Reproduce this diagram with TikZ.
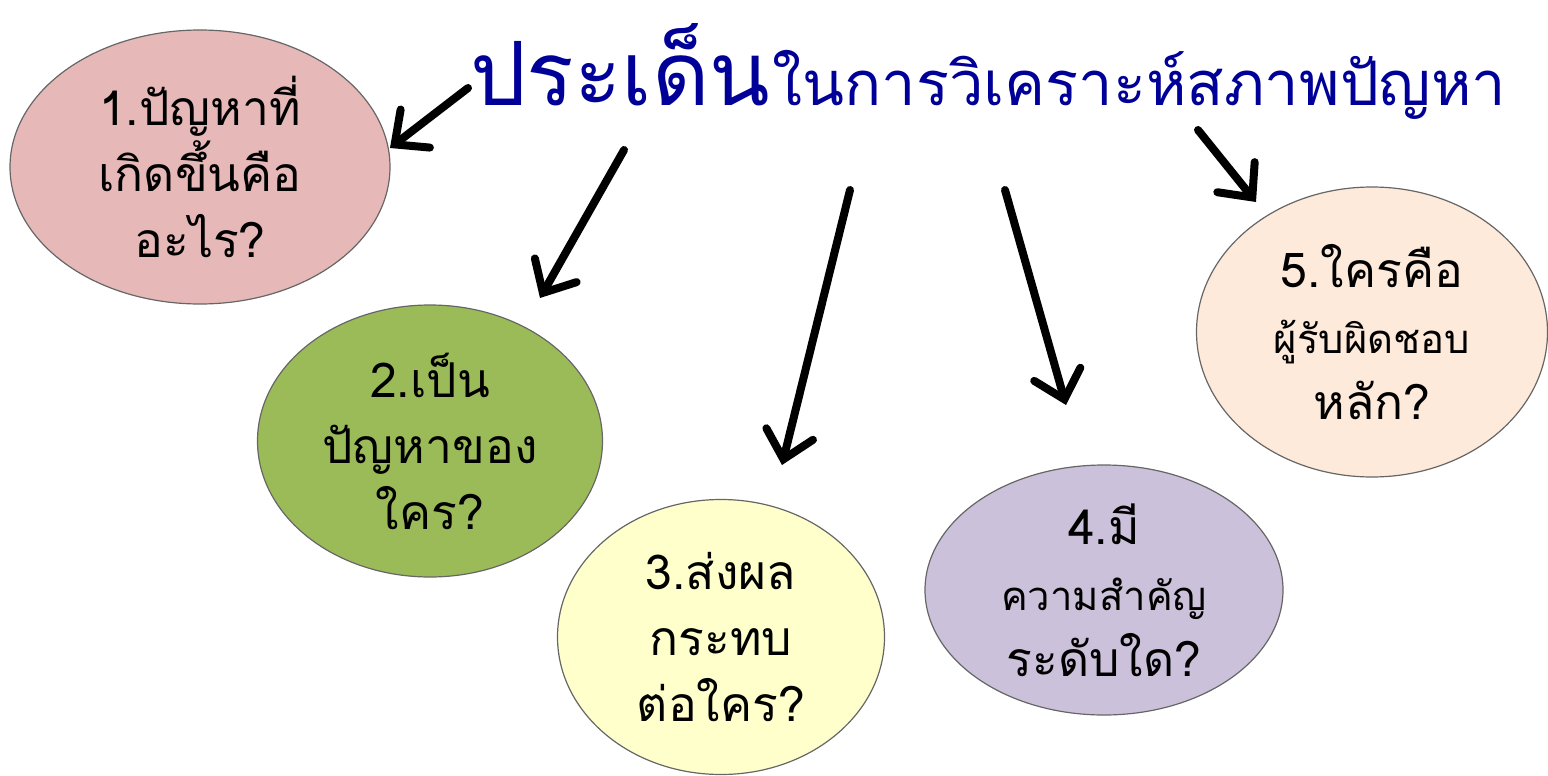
\documentclass[tikz,border=0pt]{standalone}
\usepackage{fontspec}
\newfontfamily\thaifont[Script=Thai]{Loma}
\usetikzlibrary{shapes.geometric,arrows.meta}
\definecolor{titleblue}{HTML}{000099}
\definecolor{c1}{HTML}{E6B9B8}
\definecolor{c2}{HTML}{9BBB59}
\definecolor{c3}{HTML}{FFFFCC}
\definecolor{c4}{HTML}{CCC1DA}
\definecolor{c5}{HTML}{FDEADA}
\begin{document}
\begin{tikzpicture}[x=0.5pt,y=-0.5pt,
  bub/.style={ellipse,draw=gray!80!black,line width=0.6pt,inner sep=0pt,align=center,
    font=\thaifont\fontsize{24}{33}\selectfont},
  arr/.style={line width=4pt,line cap=round,-{Straight Barb[length=13pt,width=24pt,line cap=round]}},
  ttl/.style={anchor=base west,inner sep=0pt,text=titleblue,font=\thaifont}]
\useasboundingbox (0,0) rectangle (1548,776);
\node[bub,fill=c1,minimum width=190pt,minimum height=137pt] (e1) at (200,167) {1.ปัญหาที่\\เกิดขึ้นคือ\\อะไร?};
\node[bub,fill=c2,minimum width=172.5pt,minimum height=136pt] (e2) at (430,441) {2.เป็น\\ปัญหาของ\\ใคร?};
\node[bub,fill=c3,minimum width=163.5pt,minimum height=137.5pt] (e3) at (721,637) {3.ส่งผล\\กระทบ\\ต่อใคร?};
\node[bub,fill=c4,minimum width=179pt,minimum height=125pt] (e4) at (1104,590) {4.มี\\{\fontsize{20}{28}\selectfont ความสำคัญ}\\ระดับใด?};
\node[bub,fill=c5,minimum width=175.5pt,minimum height=145pt] (e5) at (1372,332) {5.ใครคือ\\{\fontsize{20}{28}\selectfont ผู้รับผิดชอบ}\\หลัก?};
\node[ttl] (t1) at (470,105) {\resizebox{150pt}{!}{ประเด็น}};
\node[ttl] (t2) at (772,105) {\resizebox{367pt}{!}{ในการวิเคราะห์สภาพปัญหา}};
\coordinate (a1s) at (468,88);  \coordinate (a1e) at (390,148);
\coordinate (a2s) at (624,150); \coordinate (a2e) at (540,298);
\coordinate (a3s) at (850,190); \coordinate (a3e) at (782,465);
\coordinate (a4s) at (1005,190);\coordinate (a4e) at (1066,405);
\coordinate (a5s) at (1198,130);\coordinate (a5e) at (1256,202);
\draw[arr] (a1s) -- (a1e);
\draw[arr] (a2s) -- (a2e);
\draw[arr] (a3s) -- (a3e);
\draw[arr] (a4s) -- (a4e);
\draw[arr] (a5s) -- (a5e);
\end{tikzpicture}
\end{document}
